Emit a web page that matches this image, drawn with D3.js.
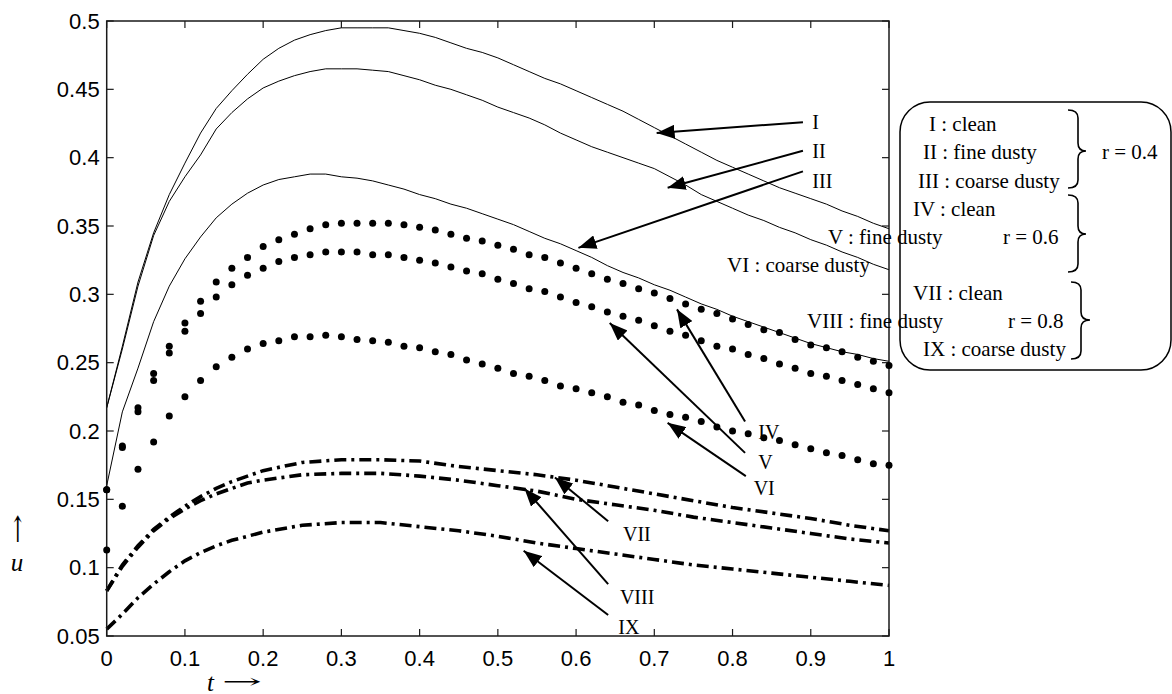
<!DOCTYPE html>
<html>
<head>
<meta charset="utf-8">
<script src="https://cdn.jsdelivr.net/npm/d3@7"></script>
<style>
  body { margin: 0; background: #fff; }
</style>
</head>
<body>
<div id="chart"></div>
<script>
// time grids
var tFine = [0, 0.02, 0.04, 0.06, 0.08, 0.10, 0.12, 0.14, 0.16, 0.18, 0.20,
  0.22, 0.24, 0.26, 0.28, 0.30, 0.32, 0.34, 0.36, 0.38, 0.40,
  0.42, 0.44, 0.46, 0.48, 0.50, 0.52, 0.54, 0.56, 0.58, 0.60,
  0.62, 0.64, 0.66, 0.68, 0.70, 0.72, 0.74, 0.76, 0.78, 0.80,
  0.82, 0.84, 0.86, 0.88, 0.90, 0.92, 0.94, 0.96, 0.98, 1.00];
var tCoarse = [0, 0.02, 0.04, 0.06, 0.08, 0.10, 0.12, 0.14, 0.16, 0.18, 0.20,
  0.25, 0.30, 0.35, 0.40, 0.45, 0.50, 0.55, 0.60, 0.65, 0.70, 0.75, 0.80, 0.85, 0.90, 0.95, 1.00];

// r = 0.4 (solid)
var uI = [0.217, 0.262, 0.309, 0.345, 0.373, 0.396, 0.418, 0.436, 0.449, 0.461, 0.472,
  0.480, 0.486, 0.490, 0.493, 0.495, 0.495, 0.495, 0.495, 0.493, 0.491,
  0.488, 0.484, 0.480, 0.477, 0.473, 0.468, 0.463, 0.458, 0.454, 0.449,
  0.444, 0.439, 0.434, 0.428, 0.422, 0.416, 0.410, 0.404, 0.398, 0.393,
  0.388, 0.383, 0.378, 0.374, 0.370, 0.366, 0.361, 0.357, 0.352, 0.348];
var uII = [0.217, 0.260, 0.306, 0.343, 0.368, 0.386, 0.402, 0.421, 0.433, 0.443, 0.451,
  0.456, 0.460, 0.463, 0.465, 0.465, 0.465, 0.464, 0.463, 0.460, 0.457,
  0.453, 0.450, 0.446, 0.442, 0.437, 0.433, 0.429, 0.424, 0.418, 0.413,
  0.408, 0.404, 0.400, 0.396, 0.392, 0.386, 0.380, 0.373, 0.368, 0.363,
  0.358, 0.354, 0.349, 0.345, 0.340, 0.336, 0.331, 0.327, 0.322, 0.318];
var uIII = [0.160, 0.214, 0.246, 0.280, 0.306, 0.326, 0.342, 0.356, 0.366, 0.374, 0.380,
  0.384, 0.386, 0.388, 0.388, 0.386, 0.385, 0.383, 0.380, 0.377, 0.373,
  0.370, 0.366, 0.363, 0.359, 0.355, 0.351, 0.346, 0.341, 0.337, 0.332,
  0.327, 0.321, 0.316, 0.312, 0.307, 0.303, 0.298, 0.293, 0.289, 0.284,
  0.280, 0.276, 0.272, 0.268, 0.264, 0.261, 0.258, 0.256, 0.253, 0.251];

// r = 0.6 (dots)
var uIV = [0.157, 0.189, 0.217, 0.242, 0.262, 0.279, 0.295, 0.309, 0.319, 0.327, 0.335,
  0.340, 0.344, 0.348, 0.351, 0.352, 0.352, 0.352, 0.352, 0.351, 0.349,
  0.347, 0.344, 0.341, 0.339, 0.336, 0.333, 0.329, 0.327, 0.323, 0.319,
  0.315, 0.311, 0.308, 0.304, 0.301, 0.297, 0.293, 0.289, 0.286, 0.282,
  0.278, 0.274, 0.272, 0.267, 0.263, 0.261, 0.258, 0.254, 0.251, 0.248];
var uV = [0.157, 0.188, 0.214, 0.237, 0.257, 0.273, 0.286, 0.298, 0.307, 0.314, 0.319,
  0.324, 0.327, 0.329, 0.331, 0.331, 0.331, 0.329, 0.329, 0.327, 0.325,
  0.323, 0.320, 0.317, 0.315, 0.311, 0.308, 0.304, 0.302, 0.298, 0.294,
  0.291, 0.287, 0.284, 0.281, 0.277, 0.273, 0.270, 0.266, 0.262, 0.260,
  0.256, 0.253, 0.249, 0.246, 0.242, 0.240, 0.237, 0.234, 0.231, 0.228];
var uVI = [0.113, 0.145, 0.172, 0.192, 0.211, 0.225, 0.237, 0.247, 0.254, 0.260, 0.264,
  0.266, 0.269, 0.269, 0.270, 0.269, 0.267, 0.266, 0.265, 0.262, 0.261,
  0.258, 0.256, 0.252, 0.249, 0.246, 0.242, 0.240, 0.237, 0.233, 0.231,
  0.228, 0.225, 0.221, 0.219, 0.215, 0.212, 0.210, 0.207, 0.203, 0.200,
  0.198, 0.195, 0.193, 0.190, 0.187, 0.184, 0.182, 0.179, 0.176, 0.175];

// r = 0.8 (dash-dot)
var uVII = [0.083, 0.102, 0.116, 0.128, 0.137, 0.145, 0.152, 0.158, 0.163, 0.167, 0.171,
  0.177, 0.179, 0.179, 0.178, 0.174, 0.171, 0.168, 0.164, 0.159, 0.154, 0.149, 0.144, 0.140, 0.136, 0.131, 0.127];
var uVIII = [0.083, 0.101, 0.115, 0.127, 0.136, 0.143, 0.149, 0.154, 0.158, 0.162, 0.164,
  0.168, 0.169, 0.169, 0.167, 0.164, 0.160, 0.156, 0.150, 0.146, 0.142, 0.137, 0.133, 0.129, 0.125, 0.121, 0.118];
var uIX = [0.055, 0.066, 0.078, 0.088, 0.097, 0.105, 0.111, 0.116, 0.120, 0.123, 0.126,
  0.131, 0.133, 0.133, 0.130, 0.127, 0.123, 0.118, 0.114, 0.110, 0.106, 0.102, 0.099, 0.096, 0.093, 0.090, 0.087];

var xTicks = [0, 0.1, 0.2, 0.3, 0.4, 0.5, 0.6, 0.7, 0.8, 0.9, 1];
var xTickLabels = ['0', '0.1', '0.2', '0.3', '0.4', '0.5', '0.6', '0.7', '0.8', '0.9', '1'];
var yTicks = [0.05, 0.1, 0.15, 0.2, 0.25, 0.3, 0.35, 0.4, 0.45, 0.5];
var yTickLabels = ['0.05', '0.1', '0.15', '0.2', '0.25', '0.3', '0.35', '0.4', '0.45', '0.5'];

// curve labels with arrows: [label, labelT, labelU, fromT, fromU, tipT, tipU]
var arrowNotes = [
  ['I',    0.902, 0.426, 0.890, 0.426, 0.703, 0.418],
  ['II',   0.902, 0.405, 0.890, 0.405, 0.717, 0.378],
  ['III',  0.902, 0.383, 0.890, 0.390, 0.603, 0.334],
  ['IV',   0.833, 0.199, 0.816, 0.207, 0.729, 0.289],
  ['V',    0.833, 0.177, 0.816, 0.184, 0.643, 0.279],
  ['VI',   0.827, 0.158, 0.817, 0.167, 0.717, 0.206],
  ['VII',  0.660, 0.125, 0.641, 0.134, 0.573, 0.166],
  ['VIII', 0.656, 0.0785, 0.641, 0.088, 0.534, 0.158],
  ['IX',   0.654, 0.0566, 0.641, 0.0654, 0.533, 0.1124]
];

var legendLines = [
  ['I : clean', 929, 124], ['II : fine dusty', 923, 152], ['III : coarse dusty', 918, 181],
  ['r = 0.4', 1102, 152],
  ['IV : clean', 913, 209], ['V : fine dusty', 828, 237], ['VI : coarse dusty', 727, 265],
  ['r = 0.6', 1003, 237],
  ['VII : clean', 913, 293], ['VIII : fine dusty', 807, 321], ['IX : coarse dusty', 923, 349],
  ['r = 0.8', 1008, 321]
];

var width = 1172, height = 694;
var svg = d3.select('#chart').append('svg')
  .attr('width', width)
  .attr('height', height);

var x = d3.scaleLinear().domain([0, 1]).range([106.7, 889]);
var y = d3.scaleLinear().domain([0.05, 0.5]).range([636, 21]);

var axisColor = '#1a1a1a';
var serif = 'Liberation Serif, Times New Roman, serif';
var sans = 'Liberation Sans, Arial, sans-serif';

// curves
var line = d3.line()
  .x(function (d) { return x(d[0]); })
  .y(function (d) { return y(d[1]); });

function pairs(ts, us) {
  return ts.map(function (t, i) { return [t, us[i]]; });
}

[uI, uII, uIII].forEach(function (us) {
  svg.append('path')
    .attr('d', line(pairs(tFine, us)))
    .attr('fill', 'none')
    .attr('stroke', '#000')
    .attr('stroke-width', 1);
});

[uVII, uVIII, uIX].forEach(function (us) {
  svg.append('path')
    .attr('d', line(pairs(tCoarse, us)))
    .attr('fill', 'none')
    .attr('stroke', '#000')
    .attr('stroke-width', 3.6)
    .attr('stroke-dasharray', '12,5,3,5');
});

// frame and ticks
svg.append('rect')
  .attr('x', x(0)).attr('y', y(0.5))
  .attr('width', x(1) - x(0)).attr('height', y(0.05) - y(0.5))
  .attr('fill', 'none')
  .attr('stroke', axisColor)
  .attr('stroke-width', 1.5);

var tickLen = 7;
xTicks.forEach(function (t) {
  svg.append('line')
    .attr('x1', x(t)).attr('x2', x(t))
    .attr('y1', y(0.05)).attr('y2', y(0.05) - tickLen)
    .attr('stroke', axisColor).attr('stroke-width', 1.2);
  svg.append('line')
    .attr('x1', x(t)).attr('x2', x(t))
    .attr('y1', y(0.5)).attr('y2', y(0.5) + tickLen)
    .attr('stroke', axisColor).attr('stroke-width', 1.2);
});
yTicks.forEach(function (u) {
  svg.append('line')
    .attr('x1', x(0)).attr('x2', x(0) + tickLen)
    .attr('y1', y(u)).attr('y2', y(u))
    .attr('stroke', axisColor).attr('stroke-width', 1.2);
  svg.append('line')
    .attr('x1', x(1)).attr('x2', x(1) - tickLen)
    .attr('y1', y(u)).attr('y2', y(u))
    .attr('stroke', axisColor).attr('stroke-width', 1.2);
});

svg.selectAll('text.xtick').data(xTicks)
  .enter().append('text')
  .attr('class', 'xtick')
  .attr('x', function (d) { return x(d); })
  .attr('y', y(0.05) + 22)
  .attr('dominant-baseline', 'central')
  .attr('text-anchor', 'middle')
  .attr('font-family', sans)
  .attr('font-size', 22)
  .text(function (d, i) { return xTickLabels[i]; });

svg.selectAll('text.ytick').data(yTicks)
  .enter().append('text')
  .attr('class', 'ytick')
  .attr('x', x(0) - 7)
  .attr('y', function (d) { return y(d); })
  .attr('dominant-baseline', 'central')
  .attr('text-anchor', 'end')
  .attr('font-family', sans)
  .attr('font-size', 22)
  .text(function (d, i) { return yTickLabels[i]; });

// dotted curves drawn over the frame
[uIV, uV, uVI].forEach(function (us) {
  svg.append('g').selectAll('circle').data(pairs(tFine, us))
    .enter().append('circle')
    .attr('cx', function (d) { return x(d[0]); })
    .attr('cy', function (d) { return y(d[1]); })
    .attr('r', 3.5)
    .attr('fill', '#000');
});

// arrows
svg.append('defs').append('marker')
  .attr('id', 'head')
  .attr('viewBox', '0 0 18 14')
  .attr('refX', 18).attr('refY', 7)
  .attr('markerWidth', 18).attr('markerHeight', 14)
  .attr('markerUnits', 'userSpaceOnUse')
  .attr('orient', 'auto')
  .append('path')
  .attr('d', 'M0,0 L18,7 L0,14 Z')
  .attr('fill', '#000');

arrowNotes.forEach(function (a) {
  svg.append('line')
    .attr('x1', x(a[3])).attr('y1', y(a[4]))
    .attr('x2', x(a[5])).attr('y2', y(a[6]))
    .attr('stroke', '#000')
    .attr('stroke-width', 2)
    .attr('marker-end', 'url(#head)');
  svg.append('text')
    .attr('x', x(a[1])).attr('y', y(a[2]))
    .attr('dominant-baseline', 'central')
    .attr('font-family', serif)
    .attr('font-size', 20)
    .text(a[0]);
});

// legend box
svg.append('rect')
  .attr('x', 900).attr('y', 102)
  .attr('width', 271).attr('height', 268)
  .attr('rx', 30).attr('ry', 30)
  .attr('fill', 'none')
  .attr('stroke', '#000')
  .attr('stroke-width', 1.5);

legendLines.forEach(function (l) {
  svg.append('text')
    .attr('x', l[1]).attr('y', l[2])
    .attr('dominant-baseline', 'central')
    .attr('font-family', serif)
    .attr('font-size', 21)
    .text(l[0]);
});

function brace(x0, x1, xt, y0, ym, y1) {
  var r = 8;
  return 'M' + x0 + ',' + y0 +
    ' Q' + x1 + ',' + y0 + ' ' + x1 + ',' + (y0 + r) +
    ' L' + x1 + ',' + (ym - r) +
    ' Q' + x1 + ',' + ym + ' ' + xt + ',' + ym +
    ' Q' + x1 + ',' + ym + ' ' + x1 + ',' + (ym + r) +
    ' L' + x1 + ',' + (y1 - r) +
    ' Q' + x1 + ',' + y1 + ' ' + x0 + ',' + y1;
}
[[1068, 1078, 1086, 110, 151, 188],
 [1068, 1078, 1086, 195, 234, 272],
 [1071, 1081, 1090, 282, 320, 359]].forEach(function (b) {
  svg.append('path')
    .attr('d', brace(b[0], b[1], b[2], b[3], b[4], b[5]))
    .attr('fill', 'none')
    .attr('stroke', '#000')
    .attr('stroke-width', 1.6);
});

// axis labels
svg.append('text')
  .attr('transform', 'translate(17,529) rotate(-90)')
  .attr('dominant-baseline', 'central')
  .attr('text-anchor', 'middle')
  .attr('font-family', 'DejaVu Serif, serif')
  .attr('font-size', 20)
  .attr('fill', '#000')
  .attr('textLength', 30)
  .attr('lengthAdjust', 'spacingAndGlyphs')
  .text('\u2192');
svg.append('text')
  .attr('x', 17).attr('y', 562)
  .attr('dominant-baseline', 'central')
  .attr('text-anchor', 'middle')
  .attr('font-family', serif)
  .attr('font-style', 'italic')
  .attr('font-size', 25)
  .text('u');

svg.append('text')
  .attr('x', 207).attr('y', 682)
  .attr('dominant-baseline', 'central')
  .attr('font-family', serif)
  .attr('font-style', 'italic')
  .attr('font-size', 25)
  .text('t');
svg.append('text')
  .attr('x', 222).attr('y', 681)
  .attr('dominant-baseline', 'central')
  .attr('font-family', 'DejaVu Serif, serif')
  .attr('font-size', 20)
  .attr('fill', '#000')
  .attr('textLength', 40)
  .attr('lengthAdjust', 'spacingAndGlyphs')
  .text('\u2192');
</script>
</body>
</html>
